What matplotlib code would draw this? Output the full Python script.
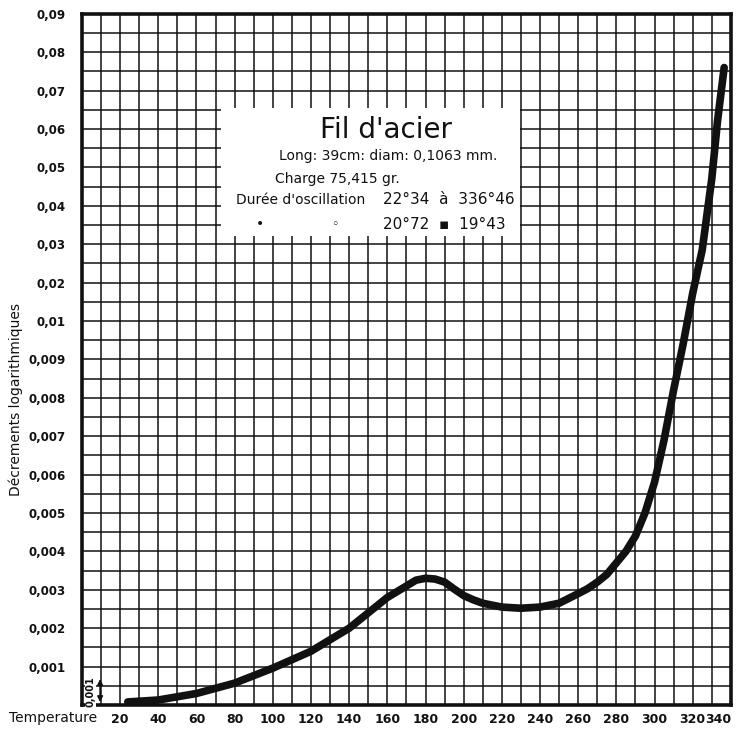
import numpy as np
import matplotlib
matplotlib.use("Agg")
import matplotlib.pyplot as plt

# --- Data ---
TEMPERATURE = [24, 40, 60, 80, 100, 120, 140, 160, 170, 175, 180, 185, 190, 195, 200,
               205, 210, 220, 230, 240, 250, 260, 265, 270, 275, 280, 285, 290, 295,
               300, 305, 310, 315, 320, 325, 328, 330, 333, 336.5]
DECREMENT = [0.00008, 0.00013, 0.0003, 0.00057, 0.00096, 0.0014, 0.002, 0.0028,
             0.0031, 0.00325, 0.0033, 0.00328, 0.0032, 0.00302, 0.00285, 0.00274,
             0.00265, 0.00255, 0.00252, 0.00255, 0.00265, 0.0029, 0.00303, 0.0032,
             0.0034, 0.0037, 0.0040, 0.0044, 0.0050, 0.0058, 0.0069, 0.0082, 0.0094,
             0.0172, 0.0285, 0.0396, 0.047, 0.062, 0.076]

X_TICKS = list(range(20, 341, 20))
Y_TICKS = [0.001, 0.002, 0.003, 0.004, 0.005, 0.006, 0.007, 0.008, 0.009,
           0.01, 0.02, 0.03, 0.04, 0.05, 0.06, 0.07, 0.08, 0.09]
Y_LABELS = ["0,001", "0,002", "0,003", "0,004", "0,005", "0,006", "0,007", "0,008",
            "0,009", "0,01", "0,02", "0,03", "0,04", "0,05", "0,06", "0,07", "0,08", "0,09"]

INK = "#111111"
FONT = "DejaVu Sans"


# the plate's ordinate is linear in 0.001 steps up to 0.01, then in 0.01 steps
def forward(v):
    v = np.asarray(v, dtype=float)
    return np.where(v <= 0.01, v / 0.001, 10 + (v - 0.01) / 0.01)


def inverse(p):
    p = np.asarray(p, dtype=float)
    return np.where(p <= 10, p * 0.001, 0.01 + (p - 10) * 0.01)


fig = plt.figure(figsize=(7.36, 7.33), dpi=100)
ax = fig.add_axes([0.1114, 0.0382, 0.8816, 0.943])
ax.set_yscale("function", functions=(forward, inverse))
ax.set_xlim(0, 340)
ax.set_ylim(0, 0.09)

# --- grid paper ---
minor_y = [0.0005 + 0.001 * i for i in range(10)] + [0.015 + 0.01 * i for i in range(8)]
ax.set_xticks(X_TICKS)
ax.set_xticks(list(range(10, 340, 20)), minor=True)
ax.set_yticks(Y_TICKS)
ax.set_yticks(minor_y, minor=True)
ax.grid(True, which="both", color=INK, lw=1.1)
ax.set_axisbelow(True)
ax.tick_params(which="both", length=0)
ax.set_xticklabels([str(t) for t in X_TICKS], fontsize=9, fontweight="bold",
                   family=FONT, color=INK)
ax.get_xticklabels()[-1].set_horizontalalignment("right")
ax.set_yticklabels(Y_LABELS, fontsize=8.5, fontweight="bold", family=FONT, color=INK)
ax.tick_params(axis="x", pad=6)
ax.tick_params(axis="y", pad=12)
for s in ax.spines.values():
    s.set_linewidth(2.6)
    s.set_color(INK)

# --- the curve ---
ax.plot(TEMPERATURE, DECREMENT, color=INK, lw=5.5, solid_capstyle="round",
        solid_joinstyle="round", zorder=5)

# --- labels ---
fig.text(0.022, 0.455, "Décrements logarithmiques", rotation=90, ha="center",
         va="center", fontsize=10, family=FONT, color=INK)
fig.text(0.012, 0.02, "Temperature", ha="left", va="center", fontsize=10,
         family=FONT, color=INK)

# small scale marker in the bottom-left cell
ax.annotate("", xy=(9.5, 0.00075), xytext=(9.5, 0.0), zorder=6,
            arrowprops=dict(arrowstyle="<|-|>", color=INK, lw=1.2, mutation_scale=8))
ax.text(4.5, 0.00035, "0,001", rotation=90, ha="center", va="center", fontsize=7,
        family=FONT, fontweight="bold", color=INK, zorder=6,
        bbox=dict(facecolor="white", edgecolor="none", pad=0.5))

# --- legend box on the grid ---
box = ax.inset_axes([0.215, 0.679, 0.46, 0.185], transform=ax.transAxes)
box.set_xticks([]); box.set_yticks([])
box.set_facecolor("white")
for s in box.spines.values():
    s.set_visible(False)
box.set_zorder(4)
box.text(0.55, 0.83, "Fil d'acier", ha="center", va="center", fontsize=20,
         family=FONT, color=INK)
box.text(0.56, 0.62, "Long: 39cm: diam: 0,1063 mm.", ha="center", va="center",
         fontsize=10, family=FONT, color=INK)
box.text(0.18, 0.44, "Charge 75,415 gr.", ha="left", va="center",
         fontsize=10, family=FONT, color=INK)
box.text(0.05, 0.28, "Durée d'oscillation", ha="left", va="center",
         fontsize=10, family=FONT, color=INK)
box.text(0.54, 0.28, "22°34  à  336°46", ha="left", va="center",
         fontsize=11, family=FONT, color=INK)
box.text(0.13, 0.09, "•", ha="center", va="center", fontsize=10, color=INK)
box.text(0.38, 0.09, "◦", ha="center", va="center", fontsize=9, color=INK)
box.text(0.54, 0.09, "20°72  ▪  19°43", ha="left", va="center",
         fontsize=11, family=FONT, color=INK)

fig.savefig("out.png", dpi=100)
